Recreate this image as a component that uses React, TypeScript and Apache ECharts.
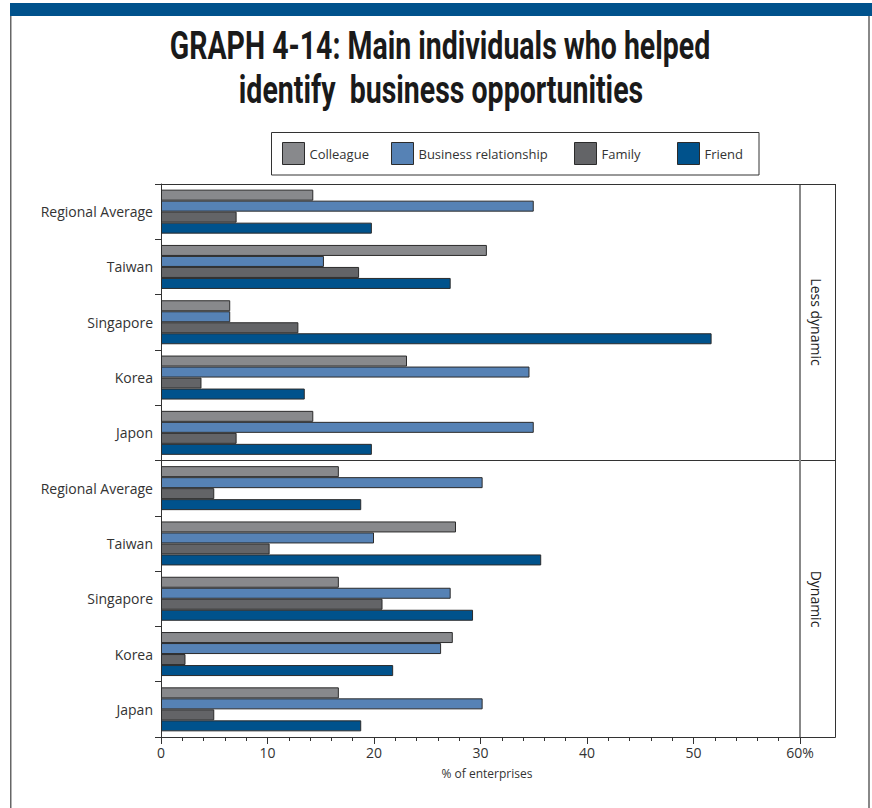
import React, { useEffect, useRef } from "react";
import * as echarts from "echarts";

const categories = [
  "Regional Average",
  "Taiwan",
  "Singapore",
  "Korea",
  "Japon",
  "Regional Average",
  "Taiwan",
  "Singapore",
  "Korea",
  "Japan",
];

const seriesNames = ["Colleague", "Business relationship", "Family", "Friend"];
const colleague = [14.3, 30.6, 6.5, 23.1, 14.3, 16.7, 27.7, 16.7, 27.4, 16.7];
const business = [35.0, 15.3, 6.5, 34.6, 35.0, 30.2, 20.0, 27.2, 26.3, 30.2];
const family = [7.1, 18.6, 12.9, 3.8, 7.1, 5.0, 10.2, 20.8, 2.3, 5.0];
const friend = [19.8, 27.2, 51.7, 13.5, 19.8, 18.8, 35.7, 29.3, 21.8, 18.8];
const seriesColors = ["#88898C", "#5682B5", "#636467", "#00528C"];

const xTickLabels = ["0", "10", "20", "30", "40", "50", "60%"];
const groupLabels = ["Less dynamic", "Dynamic"];
const titleLines = ["GRAPH 4-14: Main individuals who helped", "identify  business opportunities"];
const xAxisName = "% of enterprises";

const FONT = "'Open Sans', 'Noto Sans', sans-serif";

export default function App() {
  const ref = useRef<HTMLDivElement>(null);

  useEffect(() => {
    if (!ref.current) return;
    const chart = echarts.init(ref.current, undefined, { renderer: "svg" });
    const values = [colleague, business, family, friend];

    const legendLefts = [282, 391, 574, 677];
    const legends = seriesNames.map((n, i) => ({
      data: [n],
      left: legendLefts[i],
      top: 142,
      itemWidth: 22,
      itemHeight: 22,
      icon: "rect",
      padding: 0,
      selectedMode: false,
      itemStyle: { borderColor: "#2b2b2b", borderWidth: 1 },
      textStyle: { fontSize: 13, color: "#333", fontFamily: FONT },
    }));

    const line = (x1: number, y1: number, x2: number, y2: number, stroke: string, lw: number) => ({
      type: "line",
      shape: { x1, y1, x2, y2 },
      style: { stroke, lineWidth: lw },
      z: 10,
    });

    const option: any = {
      animation: false,
      backgroundColor: "#fff",
      grid: { left: 161, right: 72, top: 184, bottom: 71, containLabel: false },
      legend: legends,
      xAxis: {
        type: "value",
        min: 0,
        max: 60,
        interval: 10,
        axisLine: { show: true, lineStyle: { color: "#333", width: 1 } },
        axisTick: { show: true, length: 7, lineStyle: { color: "#333" } },
        minorTick: { show: true, splitNumber: 5, length: 4, lineStyle: { color: "#333" } },
        splitLine: { show: false },
        axisLabel: {
          formatter: (v: number) => xTickLabels[Math.round(v / 10)] ?? String(v),
          fontSize: 14,
          color: "#333",
          margin: 8,
          fontFamily: FONT,
        },
      },
      yAxis: {
        type: "category",
        inverse: true,
        data: categories,
        axisLine: { show: true, lineStyle: { color: "#333", width: 1 } },
        axisTick: { show: true, length: 6, lineStyle: { color: "#333" } },
        axisLabel: { fontSize: 14, color: "#333", margin: 8, fontFamily: FONT },
      },
      series: seriesNames.map((n, i) => ({
        name: n,
        type: "bar",
        data: values[i],
        barWidth: 11,
        barGap: "0%",
        itemStyle: { color: seriesColors[i], borderColor: "#2b2b2b", borderWidth: 1 },
      })),
      graphic: [
        { type: "rect", shape: { x: 10, y: 3, width: 862, height: 13 }, style: { fill: "#00528C" } },
        { type: "rect", shape: { x: 10, y: 16, width: 1.5, height: 792 }, style: { fill: "#666" } },
        { type: "rect", shape: { x: 868, y: 16, width: 2, height: 792 }, style: { fill: "#888" } },
        {
          type: "rect",
          shape: { x: 271.5, y: 132.5, width: 487.5, height: 42.5 },
          style: { fill: "none", stroke: "#333", lineWidth: 1 },
        },
        line(161, 184.5, 835.5, 184.5, "#333", 1),
        line(835.5, 184, 835.5, 737.5, "#333", 1),
        line(800, 737.5, 835.5, 737.5, "#333", 1),
        line(161, 460.5, 835.5, 460.5, "#333", 1),
        line(800, 185, 800, 737, "#888", 2),
        {
          type: "text",
          x: 816,
          y: 322,
          rotation: -Math.PI / 2,
          style: { text: groupLabels[0], fontSize: 14, fill: "#222", fontFamily: FONT, align: "center", verticalAlign: "middle" },
        },
        {
          type: "text",
          x: 816,
          y: 599,
          rotation: -Math.PI / 2,
          style: { text: groupLabels[1], fontSize: 14, fill: "#222", fontFamily: FONT, align: "center", verticalAlign: "middle" },
        },
        {
          type: "text",
          x: 487,
          y: 773,
          style: { text: xAxisName, fontSize: 12, fill: "#333", fontFamily: FONT, align: "center", verticalAlign: "middle" },
        },
        {
          type: "text",
          x: 440,
          y: 46,
          scaleX: 0.75,
          style: {
            text: titleLines[0],
            fontSize: 38,
            fontWeight: "bold",
            fill: "#1a1a1a",
            fontFamily: "Roboto, sans-serif",
            align: "center",
            verticalAlign: "middle",
          },
        },
        {
          type: "text",
          x: 441,
          y: 90,
          scaleX: 0.75,
          style: {
            text: titleLines[1],
            fontSize: 38,
            fontWeight: "bold",
            fill: "#1a1a1a",
            fontFamily: "Roboto, sans-serif",
            align: "center",
            verticalAlign: "middle",
          },
        },
      ],
    };

    chart.setOption(option);
    return () => chart.dispose();
  }, []);

  return (
    <div
      ref={ref}
      style={{ position: "fixed", left: 0, top: 0, width: 872, height: 808, background: "#fff" }}
    />
  );
}
